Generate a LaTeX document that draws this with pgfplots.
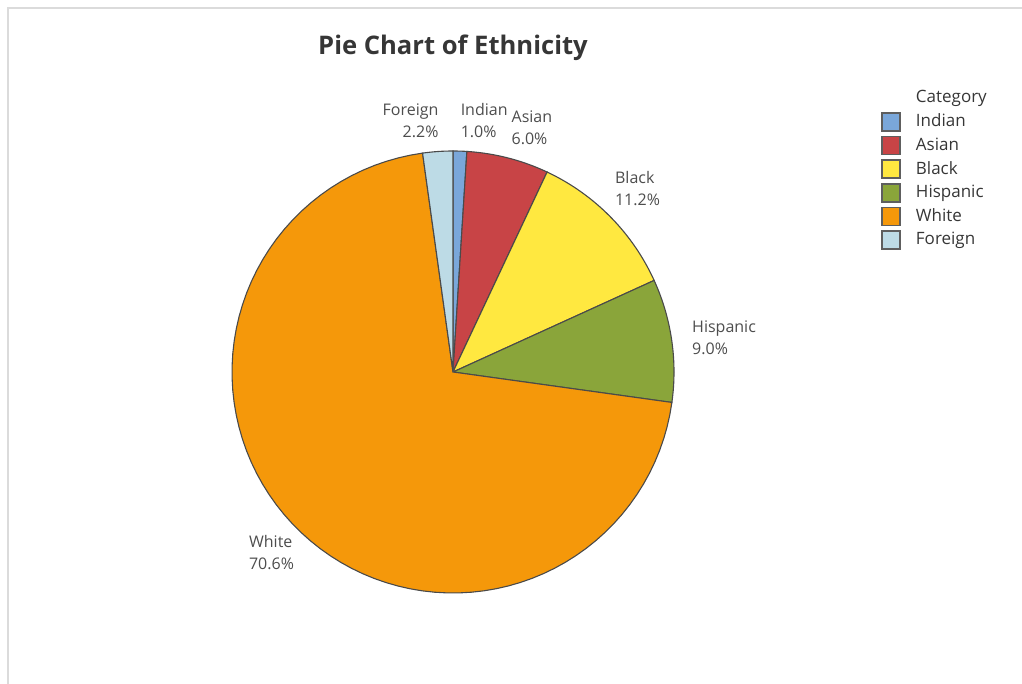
\documentclass[border=0pt]{standalone}
\usepackage{fontspec}
\setmainfont{Open Sans}
\usepackage{pgfplots}
\usepackage{pgfplotstable}
\pgfplotsset{compat=1.18}

\definecolor{cIndian}{HTML}{7AA7DA}
\definecolor{cAsian}{HTML}{C84446}
\definecolor{cBlack}{HTML}{FFE840}
\definecolor{cHispanic}{HTML}{8AA53A}
\definecolor{cWhite}{HTML}{F5980A}
\definecolor{cForeign}{HTML}{BDDBE6}
\definecolor{edgecol}{HTML}{4A4A4A}
\definecolor{boxcol}{HTML}{5E5E5E}
\definecolor{labcol}{HTML}{4D4D4D}
\definecolor{titlecol}{HTML}{363636}

% share of each group, clockwise from 12 o'clock
\pgfplotstableread{
name     value
Indian   1.0
Asian    6.0
Black    11.2
Hispanic 9.0
White    70.6
Foreign  2.2
}\ethdata

% start, end and middle angle of every slice
\def\cum{0}
\pgfplotsforeachungrouped \i in {0,...,5}{%
  \pgfplotstablegetelem{\i}{value}\of\ethdata%
  \let\v\pgfplotsretval%
  \pgfmathsetmacro\a{90-3.6*\cum}%
  \pgfmathsetmacro\cum{\cum+\v}%
  \pgfmathsetmacro\b{90-3.6*\cum}%
  \pgfmathsetmacro\m{(\a+\b)/2}%
  \expandafter\xdef\csname sa\i\endcsname{\a}%
  \expandafter\xdef\csname sb\i\endcsname{\b}%
  \expandafter\xdef\csname sm\i\endcsname{\m}%
  \expandafter\xdef\csname sv\i\endcsname{\v}%
  \pgfplotstablegetelem{\i}{name}\of\ethdata%
  \expandafter\xdef\csname sn\i\endcsname{\pgfplotsretval}%
}

\tikzset{
  lab0/.style={anchor=south west, align=left},
  lab1/.style={anchor=south west, align=left},
  lab2/.style={anchor=south west, align=left, xshift=-2.5pt, yshift=0.5pt},
  lab3/.style={anchor=west, align=left, xshift=3.5pt, yshift=0.5pt},
  lab4/.style={anchor=north east, align=left, xshift=3.5pt, yshift=1.5pt},
  lab5/.style={anchor=south east, align=right, xshift=1pt},
}

\begin{document}
\begin{tikzpicture}
\draw[black!14, line width=1pt] (3.75pt,0) -- (3.75pt,338pt) -- (511pt,338pt);
\node[font=\fontsize{12.8}{15}\selectfont\bfseries, text=titlecol] at (226.5pt,318.3pt) {Pie Chart of Ethnicity};
\begin{axis}[
  at={(226.5pt,156pt)}, anchor=center,
  width=221pt, height=221pt, scale only axis,
  xmin=-1, xmax=1, ymin=-1, ymax=1,
  hide axis, clip=false,
  /pgf/number format/assume math mode=true,
  legend image code/.code={\draw[#1, draw=boxcol, line width=0.9pt] (0pt,-4.5pt) rectangle (9pt,4.5pt);
    \path[draw=none, fill=none] (9pt,0) -- (15pt,0);},
  legend style={at={(1.454,1.156)}, anchor=north west, draw=none, fill=none,
    font=\fontsize{8.5}{10}\selectfont, text=titlecol, row sep=0pt,
    cells={anchor=west}},
  legend cell align=left,
]
\addlegendimage{empty legend}
\addlegendentry{Category}
\pgfplotsinvokeforeach{0,...,5}{
  \addplot[fill=c\csname sn#1\endcsname, draw=edgecol, line width=0.55pt,
    domain=\csname sb#1\endcsname:\csname sa#1\endcsname, samples=80, variable=\t]
    ({cos(\t)},{sin(\t)}) -- (axis cs:0,0) -- cycle;
  \addlegendentry{\csname sn#1\endcsname}
  \node[lab#1, inner sep=0pt, text=labcol, font=\fontsize{8}{11}\selectfont]
    at (axis cs:{1.06*cos(\csname sm#1\endcsname)},{1.06*sin(\csname sm#1\endcsname)})
    {\csname sn#1\endcsname\\\pgfmathprintnumber[fixed,fixed zerofill,precision=1]{\csname sv#1\endcsname}\%};
}
\end{axis}
\pgfresetboundingbox
\path[use as bounding box] (0,0) rectangle (511pt,342pt);
\end{tikzpicture}
\end{document}
